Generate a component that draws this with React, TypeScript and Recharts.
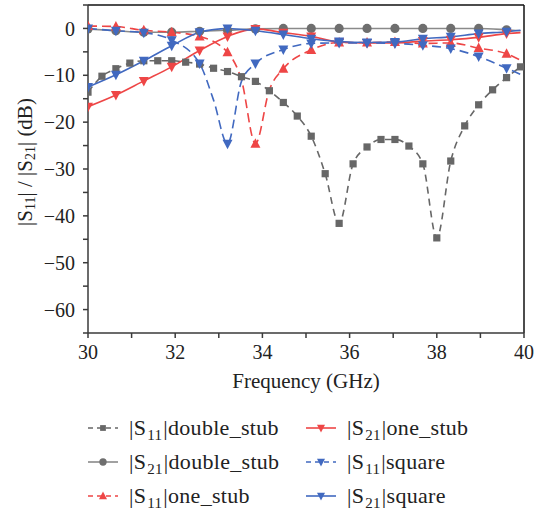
import React from "react";
import { LineChart, Line, XAxis, YAxis, ReferenceLine, Legend } from "recharts";

// Frequency points (GHz)
const freq = [
  30.0, 30.32, 30.64, 30.96, 31.28, 31.6, 31.92, 32.24, 32.56, 32.88, 33.2, 33.52,
  33.84, 34.16, 34.48, 34.8, 35.12, 35.44, 35.76, 36.08, 36.4, 36.72, 37.04, 37.36,
  37.68, 38.0, 38.32, 38.64, 38.96, 39.28, 39.6, 39.92,
];

// |S11| double_stub (dB)
const s11DoubleStub = [
  -13.6, -10.2, -8.6, -7.4, -6.9, -6.9, -6.9, -7.2, -7.6, -8.5, -9.2, -10.3,
  -11.3, -13.3, -15.8, -18.7, -23.0, -31.0, -41.6, -28.9, -25.3, -23.7, -23.7, -25.1,
  -28.9, -44.7, -28.3, -20.8, -16.3, -13.1, -10.5, -8.2,
];

// |S21| double_stub (dB)
const s21DoubleStub = [
  -0.1, null, -0.5, null, -0.8, null, -0.8, null, -0.6, null, -0.4, null,
  -0.1, null, 0.0, null, 0.0, null, 0.0, null, 0.0, null, 0.0, null,
  0.0, null, 0.0, null, 0.0, null, -0.3, -0.5,
];

// |S11| one_stub (dB)
const s11OneStub = [
  0.5, null, 0.4, null, -0.4, null, -0.8, null, -1.7, null, -5.1, -11.0,
  -24.6, -13.1, -8.6, null, -4.6, null, -3.0, null, -3.0, null, -2.9, null,
  -3.2, null, -3.1, null, -4.2, null, -5.4, -6.8,
];

// |S21| one_stub (dB)
const s21OneStub = [
  -16.7, null, -14.2, null, -11.2, null, -8.2, null, -4.7, null, -1.7, null,
  -0.1, null, -0.9, null, -1.7, null, -2.9, null, -3.1, null, -3.1, null,
  -2.7, null, -2.4, null, -1.9, null, -1.1, -0.9,
];

// |S11| square (dB)
const s11Square = [
  0.0, null, -0.5, null, -0.9, null, -2.5, null, -7.5, -15.3, -24.6, -11.3,
  -7.5, null, -4.5, null, -3.2, null, -3.1, null, -3.1, null, -3.2, null,
  -3.6, null, -4.3, null, -6.0, null, -8.5, -9.8,
];

// |S21| square (dB)
const s21Square = [
  -12.5, null, -9.9, null, -6.9, null, -3.7, null, -0.8, null, 0.0, null,
  -0.5, null, -1.3, null, -2.2, null, -2.8, null, -3.0, null, -2.9, null,
  -2.2, null, -1.8, null, -1.1, null, -0.7, -0.4,
];

const xTicks = [30, 31, 32, 33, 34, 35, 36, 37, 38, 39, 40];
const xLabelTicks = [30, 32, 34, 36, 38, 40];
const yTicks = [-65, -60, -55, -50, -45, -40, -35, -30, -25, -20, -15, -10, -5, 0, 5];
const yLabelTicks = [-60, -50, -40, -30, -20, -10, 0];

const FONT = "'Liberation Serif', 'Times New Roman', serif";
const AXIS = "#3a3a3a";
const RED = "#ee4646";
const BLUE = "#4169c0";
const GRAY_DARK = "#676767";
const GRAY_LINE = "#8a8a8a";

type Shape = "square" | "circle" | "up" | "down";

const rows = freq.map((f, i) => ({
  f,
  a: s11DoubleStub[i],
  b: s21DoubleStub[i],
  c: s11OneStub[i],
  d: s21OneStub[i],
  e: s11Square[i],
  g: s21Square[i],
}));

interface SeriesDef {
  key: string;
  prefix: string;
  sub: string;
  suffix: string;
  color: string;
  markerColor: string;
  dash?: string;
  shape: Shape;
  everyPoint: boolean;
}

const series: SeriesDef[] = [
  { key: "a", prefix: "|S", sub: "11", suffix: "|double_stub", color: GRAY_DARK, markerColor: GRAY_DARK, dash: "7 5", shape: "square", everyPoint: true },
  { key: "b", prefix: "|S", sub: "21", suffix: "|double_stub", color: GRAY_LINE, markerColor: "#6e6e6e", shape: "circle", everyPoint: false },
  { key: "c", prefix: "|S", sub: "11", suffix: "|one_stub", color: RED, markerColor: RED, dash: "9 5", shape: "up", everyPoint: false },
  { key: "d", prefix: "|S", sub: "21", suffix: "|one_stub", color: RED, markerColor: RED, shape: "down", everyPoint: false },
  { key: "e", prefix: "|S", sub: "11", suffix: "|square", color: BLUE, markerColor: BLUE, dash: "9 5", shape: "down", everyPoint: false },
  { key: "g", prefix: "|S", sub: "21", suffix: "|square", color: BLUE, markerColor: BLUE, shape: "down", everyPoint: false },
];

function markerEl(shape: Shape, cx: number, cy: number, color: string, key?: string, scale = 1) {
  if (shape === "square") {
    const s = 3.6 * scale;
    return <rect key={key} x={cx - s} y={cy - s} width={2 * s} height={2 * s} fill={color} />;
  }
  if (shape === "circle") {
    return <circle key={key} cx={cx} cy={cy} r={4.6 * scale} fill={color} />;
  }
  if (shape === "up") {
    const w = 5 * scale;
    return (
      <polygon key={key} points={`${cx},${cy - 5.5 * scale} ${cx - w},${cy + 4 * scale} ${cx + w},${cy + 4 * scale}`} fill={color} />
    );
  }
  const w = 5 * scale;
  return (
    <polygon key={key} points={`${cx - w},${cy - 4 * scale} ${cx + w},${cy - 4 * scale} ${cx},${cy + 5.5 * scale}`} fill={color} />
  );
}

function makeDot(s: SeriesDef) {
  return (props: any) => {
    const { cx, cy, index, value } = props;
    const k = `${s.key}-dot-${index}`;
    if (value == null || cy == null || Number.isNaN(cy)) return <g key={k} />;
    if (!s.everyPoint && (index % 2 !== 0 || index === freq.length - 1)) return <g key={k} />;
    return markerEl(s.shape, cx, cy, s.markerColor, k);
  };
}

function LegendIcon({ s }: { s: SeriesDef }) {
  return (
    <svg width={32} height={14} style={{ display: "block" }}>
      <line x1={1} y1={7} x2={31} y2={7} stroke={s.color} strokeWidth={1.6} strokeDasharray={s.dash ? "5 4" : undefined} />
      {markerEl(s.shape, 16, 7, s.markerColor, undefined, 0.8)}
    </svg>
  );
}

function LegendText({ s }: { s: SeriesDef }) {
  return (
    <span style={{ fontFamily: FONT, fontSize: 22, color: "#222", whiteSpace: "nowrap", lineHeight: "24px", letterSpacing: 0.3 }}>
      {s.prefix}
      <sub style={{ fontSize: 15, verticalAlign: "-5px", lineHeight: 0, margin: "0 1px" }}>{s.sub}</sub>
      {s.suffix}
    </span>
  );
}

const legendOrder = [
  { s: series[0], col: 0, row: 0 },
  { s: series[1], col: 0, row: 1 },
  { s: series[2], col: 0, row: 2 },
  { s: series[3], col: 1, row: 0 },
  { s: series[4], col: 1, row: 1 },
  { s: series[5], col: 1, row: 2 },
];

function renderLegend() {
  const colX = [87, 305];
  const rowY = [18, 52, 86];
  return (
    <div style={{ position: "relative", width: 535, height: 100 }}>
      {legendOrder.map(({ s, col, row }) => (
        <div
          key={s.key}
          style={{
            position: "absolute",
            left: colX[col],
            top: rowY[row] - 12,
            height: 24,
            display: "flex",
            alignItems: "center",
          }}
        >
          <LegendIcon s={s} />
          <div style={{ width: 10 }} />
          <LegendText s={s} />
        </div>
      ))}
    </div>
  );
}

function YLabel(props: any) {
  const vb = props.viewBox || { x: 0, y: 5, width: 88, height: 328 };
  const cx = 25;
  const cy = vb.y + vb.height / 2 - 7;
  return (
    <text
      x={cx}
      y={cy}
      transform={`rotate(-90, ${cx}, ${cy})`}
      textAnchor="middle"
      dominantBaseline="central"
      fontFamily={FONT}
      fontSize={21}
      fill="#222"
    >
      <tspan>|S</tspan>
      <tspan fontSize={14} dy={5}>11</tspan>
      <tspan dy={-5}>| / |S</tspan>
      <tspan fontSize={14} dy={5}>21</tspan>
      <tspan dy={-5}>| (dB)</tspan>
    </text>
  );
}

function XLabel(props: any) {
  const vb = props.viewBox || { x: 88, y: 333, width: 436, height: 77 };
  return (
    <text x={vb.x + vb.width / 2} y={vb.y + 55} textAnchor="middle" fontFamily={FONT} fontSize={21} fill="#222">
      Frequency (GHz)
    </text>
  );
}

export default function App() {
  return (
    <div style={{ position: "absolute", left: 0, top: 0, width: 535, height: 510, background: "#fff" }}>
      <LineChart width={535} height={510} data={rows} margin={{ top: 5, right: 11, left: 0, bottom: 0 }}>
        <XAxis
          dataKey="f"
          type="number"
          domain={[30, 40]}
          ticks={xTicks}
          allowDataOverflow
          height={77}
          stroke={AXIS}
          strokeWidth={1.5}
          tickSize={5}
          tickMargin={7}
          tick={{ fontFamily: FONT, fontSize: 20, fill: "#222" }}
          tickFormatter={(v: number) => (xLabelTicks.includes(v) ? String(v) : "")}
          label={<XLabel />}
        />
        <YAxis
          type="number"
          domain={[-65, 5]}
          ticks={yTicks}
          allowDataOverflow
          width={88}
          stroke={AXIS}
          strokeWidth={1.5}
          tickSize={5}
          tickMargin={8}
          tick={{ fontFamily: FONT, fontSize: 20, fill: "#222" }}
          tickFormatter={(v: number) => (yLabelTicks.includes(v) ? (v < 0 ? "\u2212" + Math.abs(v) : "0") : "")}
          label={<YLabel />}
        />
        <ReferenceLine x={40} stroke="#111" strokeWidth={1.5} />
        <ReferenceLine y={5} stroke="#111" strokeWidth={1.5} />
        {series.map((s) => (
          <Line
            key={s.key}
            dataKey={s.key}
            type="monotone"
            stroke={s.color}
            strokeWidth={1.6}
            strokeDasharray={s.dash}
            connectNulls
            dot={makeDot(s)}
            activeDot={false}
            isAnimationActive={false}
            legendType="none"
          />
        ))}
        <Legend
          verticalAlign="bottom"
          content={renderLegend}
          wrapperStyle={{ left: 0, width: 535, height: 100, bottom: 0 }}
        />
      </LineChart>
    </div>
  );
}
